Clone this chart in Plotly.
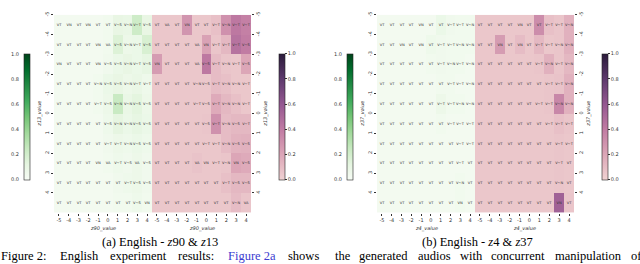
import plotly.graph_objects as go

W, H = 640, 264

x_labels = ['-5', '-4', '-3', '-2', '-1', '0', '1', '2', '3', '4']
y_labels = ['-5', '-4', '-3', '-2', '-1', '0', '1', '2', '3', '4']
cbar_ticks = [0.0, 0.2, 0.4, 0.6, 0.8, 1.0]

green_a = [
    [.03, .03, .03, .03, .03, .04, .10, .09, .22, .10],
    [.03, .03, .03, .03, .03, .04, .16, .07, .08, .18],
    [.03, .03, .03, .03, .03, .05, .08, .10, .08, .11],
    [.03, .03, .03, .03, .04, .08, .10, .07, .09, .06],
    [.03, .03, .03, .03, .04, .07, .24, .09, .13, .07],
    [.03, .03, .03, .03, .03, .06, .12, .08, .11, .08],
    [.03, .03, .03, .03, .03, .05, .07, .06, .08, .06],
    [.03, .03, .03, .03, .03, .04, .06, .05, .07, .05],
    [.03, .03, .03, .03, .03, .03, .05, .06, .07, .05],
    [.03, .03, .03, .03, .03, .03, .04, .04, .06, .04],
]
pink_a = [
    [.05, .05, .05, .28, .05, .05, .08, .30, .42, .38],
    [.05, .05, .05, .05, .05, .22, .06, .12, .45, .40],
    [.25, .05, .05, .05, .05, .42, .10, .06, .05, .20],
    [.05, .05, .05, .05, .05, .05, .10, .08, .05, .05],
    [.05, .05, .05, .05, .05, .05, .18, .12, .08, .05],
    [.05, .05, .05, .05, .05, .06, .30, .10, .12, .12],
    [.05, .05, .05, .05, .05, .05, .05, .10, .14, .15],
    [.05, .05, .05, .05, .07, .05, .05, .06, .20, .18],
    [.05, .05, .05, .05, .05, .05, .05, .08, .12, .12],
    [.05, .05, .05, .05, .05, .05, .05, .05, .10, .06],
]
green_b = [
    [.03, .03, .03, .03, .03, .03, .08, .05, .04, .04],
    [.03, .03, .03, .03, .03, .06, .05, .04, .04, .04],
    [.03, .03, .03, .03, .03, .04, .05, .04, .04, .03],
    [.03, .03, .03, .03, .03, .03, .04, .04, .03, .03],
    [.03, .03, .03, .03, .03, .03, .07, .04, .04, .03],
    [.03, .03, .03, .03, .03, .03, .04, .03, .03, .03],
    [.03, .03, .03, .03, .03, .03, .03, .03, .03, .03],
    [.03, .03, .03, .03, .03, .03, .03, .03, .03, .03],
    [.03, .03, .03, .03, .03, .03, .03, .03, .04, .03],
    [.03, .03, .03, .03, .03, .03, .03, .03, .04, .03],
]
pink_b = [
    [.05, .05, .05, .05, .05, .05, .32, .08, .06, .15],
    [.05, .05, .25, .05, .10, .05, .12, .05, .06, .15],
    [.05, .05, .05, .05, .05, .05, .06, .15, .06, .12],
    [.05, .05, .05, .05, .05, .05, .05, .06, .07, .15],
    [.05, .05, .05, .05, .05, .05, .05, .06, .35, .15],
    [.05, .05, .05, .05, .05, .05, .05, .05, .08, .06],
    [.05, .05, .05, .05, .05, .05, .05, .05, .06, .05],
    [.05, .05, .05, .05, .05, .05, .05, .05, .06, .05],
    [.05, .05, .05, .05, .05, .05, .05, .05, .06, .05],
    [.05, .05, .05, .05, .05, .05, .05, .05, .55, .06],
]

text_a_green = [
    ['VT', 'VN', 'VT', 'VN', 'VT', 'VT', 'V~S', 'V~N', 'V~T', 'V~S'],
    ['VT', 'VT', 'VT', 'VT', 'VN', 'VA', 'V~S', 'V~N', 'V~T', 'V~S'],
    ['VN', 'VT', 'VT', 'VT', 'VN', 'V~S', 'V~S', 'V~N', 'V~T', 'V~S'],
    ['VT', 'VT', 'VT', 'VT', 'V~N', 'V~S', 'V~S', 'V~N', 'V~T', 'V~T'],
    ['VT', 'VT', 'VT', 'VT', 'V~T', 'V~S', 'V~N', 'V~N', 'V~S', 'V~S'],
    ['VT', 'VT', 'VT', 'VT', 'VT', 'V~S', 'V~N', 'V~N', 'V~S', 'V~S'],
    ['VT', 'VT', 'VT', 'VT', 'VT', 'V~T', 'V~T', 'V~N', 'V~S', 'V~S'],
    ['VT', 'VT', 'VT', 'VT', 'VN', 'VA', 'V~T', 'V~S', 'VA', 'V~S'],
    ['VT', 'VT', 'VT', 'VT', 'VT', 'VT', 'VT', 'V~T', 'V~S', 'V~S'],
    ['VT', 'VT', 'VT', 'VT', 'VT', 'VT', 'VT', 'VT', 'V~S', 'VN'],
]
text_a_pink = [
    ['VT', 'VA', 'VT', 'VN', 'VT', 'VT', 'V~T', 'V~N', 'V~T', 'V~T'],
    ['VT', 'VT', 'VT', 'VT', 'VA', 'VN', 'V~T', 'V~T', 'V~T', 'V~S'],
    ['VN', 'VT', 'VT', 'VT', 'VA', 'V~S', 'V~T', 'V~N', 'V~T', 'V~S'],
    ['VT', 'VT', 'VT', 'VT', 'V~N', 'V~S', 'V~T', 'V~N', 'V~N', 'V~T'],
    ['VT', 'VT', 'VT', 'VT', 'V~T', 'V~S', 'V~T', 'V~N', 'V~N', 'V~T'],
    ['VT', 'VT', 'VT', 'VT', 'VT', 'V~S', 'V~T', 'V~N', 'V~S', 'V~T'],
    ['VT', 'VT', 'VT', 'VT', 'VT', 'V~T', 'V~T', 'V~N', 'V~S', 'V~S'],
    ['VT', 'VT', 'VT', 'VT', 'VA', 'VN', 'V~T', 'V~N', 'VN', 'V~S'],
    ['VT', 'VT', 'VT', 'VT', 'VT', 'VT', 'VT', 'V~T', 'V~S', 'V~S'],
    ['VT', 'VT', 'VT', 'VT', 'VT', 'VT', 'VT', 'VT', 'V~N', 'VA'],
]
text_b_green = [
    ['VT', 'VT', 'VT', 'VT', 'VN', 'VT', 'VT', 'V~T', 'V~T', 'V~N'],
    ['VT', 'VT', 'VN', 'VT', 'VN', 'VT', 'V~T', 'V~T', 'V~N', 'V~N'],
    ['VT', 'VT', 'VT', 'VT', 'VT', 'VT', 'V~T', 'V~N', 'V~T', 'V~N'],
    ['VT', 'VT', 'VT', 'VT', 'VT', 'VT', 'VT', 'V~T', 'V~T', 'V~N'],
    ['VT', 'VT', 'VT', 'VT', 'VT', 'VT', 'V~T', 'V~T', 'V~N', 'V~N'],
    ['VT', 'VT', 'VT', 'VT', 'VT', 'VT', 'VT', 'V~T', 'V~T', 'V~T'],
    ['VT', 'VT', 'VT', 'VT', 'VT', 'VT', 'VT', 'VT', 'V~T', 'V~T'],
    ['VT', 'VT', 'VT', 'VT', 'VT', 'VT', 'VT', 'VT', 'V~T', 'VT'],
    ['VT', 'VT', 'VT', 'VT', 'VT', 'VT', 'VT', 'VT', 'V~N', 'VT'],
    ['VT', 'VT', 'VT', 'VT', 'VT', 'VT', 'VT', 'VT', 'VN', 'VT'],
]
text_b_pink = text_b_green

greens = [[0, '#f7fcf5'], [0.125, '#e5f5e0'], [0.25, '#c7e9c0'], [0.375, '#a1d99b'],
          [0.5, '#74c476'], [0.625, '#41ab5d'], [0.75, '#238b45'], [0.875, '#006d2c'],
          [1, '#00441b']]
pinks = [[0, '#f0d2d2'], [0.2, '#dca6b7'], [0.4, '#c17ca3'], [0.6, '#955891'],
         [0.8, '#5e3a6d'], [1, '#2b1b3b']]

TICK_FONT = dict(family='DejaVu Sans', size=5, color='#333')
TITLE_FONT = dict(family='DejaVu Sans', size=5, color='#333')
CELL_FONT = dict(family='DejaVu Sans', size=3.6, color='#333')
SERIF = 'Liberation Serif'


def px(x):
    return x / W


def py(y):
    return 1 - y / H


panels = [
    dict(off=0, green=green_a, pink=pink_a, tg=text_a_green, tp=text_a_pink,
         xt='<i>z90_value</i>', yt='<i>z13_value</i>',
         cap='(a) English - <i>z</i>90 &amp; <i>z</i>13', capx=160),
    dict(off=323, green=green_b, pink=pink_b, tg=text_b_green, tp=text_b_pink,
         xt='<i>z4_value</i>', yt='<i>z37_value</i>',
         cap='(b) English - <i>z</i>4 &amp; <i>z</i>37', capx=477),
]

fig = go.Figure()
layout = dict(width=W, height=H, margin=dict(l=0, r=0, t=0, b=0),
              paper_bgcolor='white', plot_bgcolor='white', showlegend=False)
annotations = []

top, bot = 12, 212
cols = list(range(10))
rows = list(range(10))


def note(x, y, text, font, xanchor='center', angle=0):
    annotations.append(dict(x=px(x), y=py(y), xref='paper', yref='paper', text=text,
                            showarrow=False, xanchor=xanchor, yanchor='middle',
                            textangle=angle, font=font))


ax = 1
for p in panels:
    o = p['off']
    g_l, g_r, p_r = 54 + o, 152 + o, 251 + o
    for kind in ('green', 'pink'):
        xa = 'x' if ax == 1 else f'x{ax}'
        ya = 'y' if ax == 1 else f'y{ax}'
        if kind == 'green':
            dom = [px(g_l), px(g_r)]
            cb = dict(x=px(24 + o), xanchor='left', y=py(115), yanchor='middle',
                      len=126, lenmode='pixels', thickness=6, thicknessmode='pixels',
                      xpad=0, ypad=0, outlinewidth=0.6, outlinecolor='#222',
                      showticklabels=False, ticks='', tickvals=cbar_ticks)
            z, txt, cs, side = p['green'], p['tg'], greens, 'left'
        else:
            dom = [px(g_r), px(p_r)]
            cb = dict(x=px(279 + o), xanchor='left', y=py(115), yanchor='middle',
                      len=126, lenmode='pixels', thickness=6, thicknessmode='pixels',
                      xpad=0, ypad=0, outlinewidth=0.6, outlinecolor='#222',
                      tickvals=cbar_ticks, tickformat='.1f', ticks='outside',
                      ticklen=2, tickwidth=0.6, tickcolor='#333',
                      tickfont=TICK_FONT)
            z, txt, cs, side = p['pink'], p['tp'], pinks, 'right'
        fig.add_trace(go.Heatmap(
            z=z, x=cols, y=rows, text=txt, texttemplate='%{text}',
            textfont=CELL_FONT, colorscale=cs, zmin=0, zmax=1,
            colorbar=cb, xaxis=xa, yaxis=ya, hoverinfo='skip'))
        xkey = 'xaxis' if ax == 1 else f'xaxis{ax}'
        ykey = 'yaxis' if ax == 1 else f'yaxis{ax}'
        layout[xkey] = dict(domain=dom, anchor=ya, range=[-0.5, 9.5],
                            tickvals=cols, ticktext=x_labels, tickfont=TICK_FONT,
                            ticks='outside', ticklen=2, tickwidth=0.6, tickcolor='#333',
                            showgrid=False, zeroline=False, showline=False)
        layout[ykey] = dict(domain=[py(bot), py(top)], anchor=xa, range=[9.5, -0.5],
                            tickvals=[r - 0.5 for r in rows], ticktext=y_labels,
                            tickangle=-90, tickfont=TICK_FONT, side=side,
                            ticks='outside', ticklen=2, tickwidth=0.6, tickcolor='#333',
                            showgrid=False, zeroline=False, showline=False)
        # axis titles
        note((dom[0] + dom[1]) / 2 * W, 228.5, p['xt'], TITLE_FONT)
        if kind == 'green':
            note(40 + o, 112, p['yt'], TITLE_FONT, angle=-90)
        else:
            note(266 + o, 112, p['yt'], TITLE_FONT, angle=-90)
        ax += 1
    # green colorbar labels on the left side
    for v in cbar_ticks:
        note(21 + o, 178 - v * 126, f'{v:.1f}', TICK_FONT, xanchor='right')
    note(p['capx'], 242, p['cap'], dict(family=SERIF, size=12.5, color='black'))

caption_words = ['Figure 2:', 'English', 'experiment', 'results:', 'Figure 2a', 'shows',
                 'the', 'generated', 'audios', 'with', 'concurrent', 'manipulation', 'of']
caption_x = [-1, 58, 108, 176, 226, 286, 333, 357, 416, 458, 489, 553, 629]
for w, xx in zip(caption_words, caption_x):
    col = '#3b3bd0' if w == 'Figure 2a' else 'black'
    note(xx, 256, w, dict(family=SERIF, size=12.5, color=col), xanchor='left')

layout['annotations'] = annotations
fig.update_layout(**layout)
fig.write_html('out.html', config={'displayModeBar': False},
               post_script="document.body.style.margin='0';document.body.style.padding='0';")
